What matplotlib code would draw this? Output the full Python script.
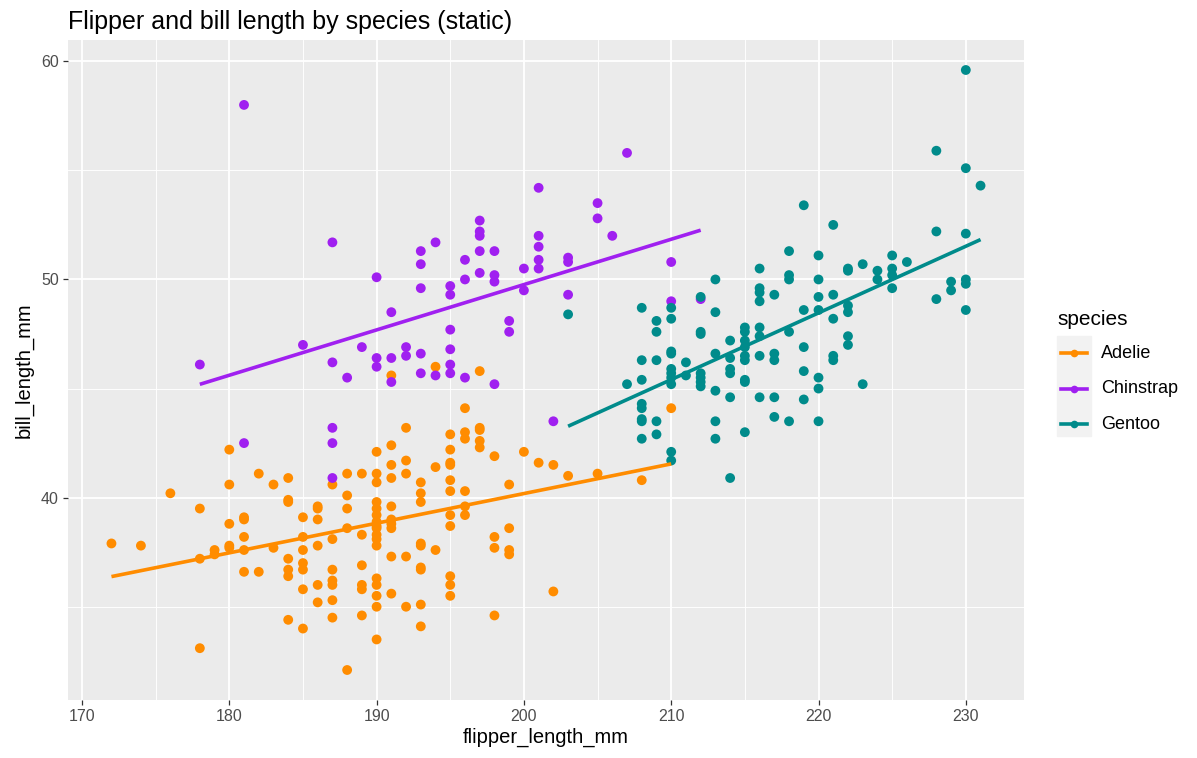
import numpy as np
import matplotlib.pyplot as plt
from matplotlib.lines import Line2D
from matplotlib.patches import Rectangle

plt.rcParams['font.family'] = ['Liberation Sans', 'DejaVu Sans']

# values (flipper_length_mm, bill_length_mm)
adelie_flipper = [180, 191, 194, 197, 196, 192, 195, 196, 196, 197, 197, 197, 197, 190, 191, 191,
                  192, 194, 195, 195, 195, 198, 200, 201, 210, 202,
                  172, 174, 176, 178, 178, 178, 179, 179, 180, 180, 180, 180, 181, 181, 181, 181,
                  181, 182, 182, 183, 183, 184, 184, 184, 184, 184, 184, 184, 185, 185, 185, 185,
                  185, 185, 185,
                  187, 188, 189, 190, 190, 191, 192, 195, 195, 196, 199, 193, 193, 193, 188, 188,
                  186, 186, 186, 187, 188, 189, 190, 190, 190, 190, 190, 190, 190, 190, 190, 191,
                  191, 191, 191, 186, 195, 195, 196, 196, 199, 198, 198, 199, 199, 193, 193, 194,
                  191, 192, 189, 193, 193, 187, 186, 187, 187, 189, 189, 190, 190, 190, 190, 191,
                  195, 195, 195, 186, 187, 192, 193, 187, 189, 198, 193, 190, 188,
                  203, 205, 208, 202]
adelie_bill = [42.2, 45.6, 46.0, 45.8, 44.1, 43.2, 42.9, 43.0, 42.7, 43.2, 43.1, 42.6, 42.3, 42.1, 42.4, 41.5,
               41.7, 41.4, 42.2, 41.6, 41.5, 41.9, 42.1, 41.6, 44.1, 41.5,
               37.9, 37.8, 40.2, 39.5, 33.1, 37.2, 37.6, 37.4, 40.6, 38.8, 37.8, 37.7, 39.1, 39.0, 38.2, 37.6,
               36.6, 41.1, 36.6, 40.6, 37.7, 40.9, 39.9, 39.8, 37.2, 36.7, 36.4, 34.4, 39.1, 38.2, 37.6, 37.0,
               36.7, 35.8, 34.0,
               40.6, 41.1, 41.1, 41.1, 40.7, 40.9, 41.1, 40.8, 40.3, 40.3, 40.6, 40.7, 40.2, 39.8, 40.1, 39.5,
               39.6, 39.5, 39.0, 38.1, 38.6, 38.3, 39.8, 39.5, 39.2, 38.9, 38.7, 38.6, 38.3, 38.1, 37.8, 39.6,
               39.0, 38.8, 38.6, 37.8, 39.2, 38.7, 39.6, 39.2, 38.6, 38.2, 37.7, 37.6, 37.4, 37.9, 37.8, 37.6,
               37.3, 37.3, 36.9, 36.8, 36.7, 36.7, 36.0, 36.2, 36.0, 36.0, 35.8, 36.3, 36.0, 35.5, 35.0, 35.6,
               36.4, 36.0, 35.5, 35.2, 35.3, 35.0, 35.1, 34.5, 34.6, 34.6, 34.1, 33.5, 32.1,
               41.0, 41.1, 40.8, 35.7]

chinstrap_flipper = [181, 187, 193, 194, 197, 197, 197, 197, 198, 196, 201, 201, 201, 205, 205, 206,
                     207, 203, 203, 210, 178, 185, 181,
                     193, 193, 190, 191, 196, 197, 198, 198, 200, 201, 201, 200, 195, 195, 195, 195,
                     195, 195, 199, 199, 189, 187, 188, 190, 190, 191, 191, 192, 192, 193, 193, 194,
                     196, 198, 187, 187, 187, 203, 210, 212, 202]
chinstrap_bill = [58.0, 51.7, 51.3, 51.7, 52.7, 52.2, 52.0, 51.3, 51.3, 50.9, 54.2, 52.0, 51.5, 53.5, 52.8, 52.0,
                  55.8, 51.0, 50.8, 50.8, 46.1, 47.0, 42.5,
                  50.7, 49.6, 50.1, 48.5, 50.0, 50.3, 50.2, 49.9, 50.5, 50.9, 50.5, 49.5, 49.7, 49.3, 47.7, 46.8,
                  46.1, 45.7, 48.1, 47.6, 46.9, 46.2, 45.5, 46.4, 46.0, 46.4, 45.3, 46.9, 46.5, 46.6, 45.7, 45.6,
                  45.5, 45.2, 43.2, 42.5, 40.9, 49.3, 49.0, 49.1, 43.5]

gentoo_flipper = [230, 228, 230, 231, 219, 221, 218, 220, 225, 228, 230,
                  203, 208, 210, 210, 209, 209, 212, 213, 213, 212, 212, 214, 216, 216, 216, 216,
                  217, 216, 216, 215, 215, 215, 215, 215, 215, 215, 215, 214, 214, 214, 216, 217,
                  217, 214, 216, 217, 217, 215, 213, 213, 213, 213, 211, 211, 212, 212, 212, 212,
                  210, 210, 210, 210, 210, 210, 208, 209, 208, 207, 208, 208, 208, 208, 209, 208,
                  209, 210, 210,
                  218, 218, 220, 222, 222, 223, 224, 224, 225, 225, 225, 226, 228, 229, 229, 230,
                  230, 230, 220, 221, 219, 220, 222, 222, 221, 218, 219, 222, 222, 221, 221, 219,
                  220, 220, 223, 219, 218, 220, 214]
gentoo_bill = [59.6, 55.9, 55.1, 54.3, 53.4, 52.5, 51.3, 51.1, 51.1, 52.2, 52.1,
               48.4, 48.7, 48.7, 48.2, 48.1, 47.6, 49.2, 50.0, 48.5, 47.6, 47.5, 47.2, 50.5, 49.6, 49.4, 49.0,
               49.3, 47.8, 47.4, 47.8, 47.6, 47.2, 46.9, 46.5, 46.3, 45.4, 45.3, 46.4, 45.9, 45.7, 46.5, 46.6,
               46.3, 44.6, 44.6, 44.6, 43.7, 43.0, 46.6, 44.9, 43.5, 42.7, 46.2, 45.6, 45.7, 45.5, 45.3, 45.1,
               46.7, 46.6, 45.9, 45.7, 45.5, 45.2, 46.3, 46.3, 45.4, 45.2, 44.3, 44.1, 43.6, 43.5, 43.5, 42.7,
               42.9, 42.1, 41.7,
               50.2, 50.0, 50.0, 50.5, 50.4, 50.7, 50.4, 50.0, 50.5, 50.2, 49.6, 50.8, 49.1, 49.9, 49.5, 50.0,
               49.8, 48.6, 49.2, 49.3, 48.6, 48.6, 48.8, 48.5, 48.2, 47.6, 46.9, 47.4, 47.0, 46.5, 46.3, 45.8,
               45.5, 45.0, 45.2, 44.5, 43.5, 43.5, 40.9]

species = ['Adelie', 'Chinstrap', 'Gentoo']
colors = ['#FF8C00', '#A020F0', '#008B8B']
flippers = [adelie_flipper, chinstrap_flipper, gentoo_flipper]
bills = [adelie_bill, chinstrap_bill, gentoo_bill]

fig = plt.figure(figsize=(11.97, 7.58), dpi=100)
ax = fig.add_axes([68 / 1197, 1 - 700 / 758, (1024 - 68) / 1197, (700 - 40) / 758])
ax.set_facecolor('#EBEBEB')

for f, b, c in zip(flippers, bills, colors):
    f = np.array(f, dtype=float)
    b = np.array(b, dtype=float)
    ax.scatter(f, b, s=50, color=c, edgecolors='none', zorder=3)
    # linear fit, like geom_smooth(method = "lm", se = FALSE)
    slope, icpt = np.polyfit(f, b, 1)
    xs = np.linspace(f.min(), f.max(), 80)
    ax.plot(xs, icpt + slope * xs, color=c, lw=2.6, zorder=4, solid_capstyle='butt')

allf = np.concatenate([np.array(v, float) for v in flippers])
allb = np.concatenate([np.array(v, float) for v in bills])
fr = allf.max() - allf.min()
br = allb.max() - allb.min()
ax.set_xlim(allf.min() - 0.05 * fr, allf.max() + 0.05 * fr)
ax.set_ylim(allb.min() - 0.05 * br, allb.max() + 0.05 * br)

ax.set_xticks([170, 180, 190, 200, 210, 220, 230])
ax.set_yticks([40, 50, 60])
ax.set_xticks([175, 185, 195, 205, 215, 225], minor=True)
ax.set_yticks([35, 45, 55], minor=True)
ax.grid(which='major', color='white', lw=1.3)
ax.grid(which='minor', color='white', lw=0.65)
ax.set_axisbelow(True)
for s in ax.spines.values():
    s.set_visible(False)
ax.tick_params(which='major', length=3.5, width=0.9, color='#333333', labelcolor='#4D4D4D',
               labelsize=11.5, pad=3)
ax.tick_params(which='minor', length=0)

ax.set_xlabel('flipper_length_mm', fontsize=14.5, color='black', labelpad=3)
ax.set_ylabel('bill_length_mm', fontsize=14.5, color='black', labelpad=5)
fig.text(68 / 1197, 1 - 22 / 758, 'Flipper and bill length by species (static)',
         fontsize=18, ha='left', va='center')

# legend drawn by hand, ggplot style
fig.text(1057 / 1197, 1 - 320 / 758, 'species', fontsize=15, ha='left', va='center')
fig.patches.append(Rectangle((1057 / 1197, 1 - 436 / 758), 34 / 1197, 100 / 758,
                             transform=fig.transFigure, color='#F2F2F2', zorder=0))
for i, (name, c) in enumerate(zip(species, colors)):
    yy = 1 - (353.5 + 35.3 * i) / 758
    fig.add_artist(Line2D([1061 / 1197, 1087 / 1197], [yy, yy], transform=fig.transFigure,
                          color=c, lw=2.6))
    fig.add_artist(Line2D([1074 / 1197], [yy], transform=fig.transFigure, color=c,
                          marker='o', ms=5.5, mec='none'))
    fig.text(1101 / 1197, yy, name, fontsize=13, ha='left', va='center')

fig.savefig('out.png', dpi=100)
